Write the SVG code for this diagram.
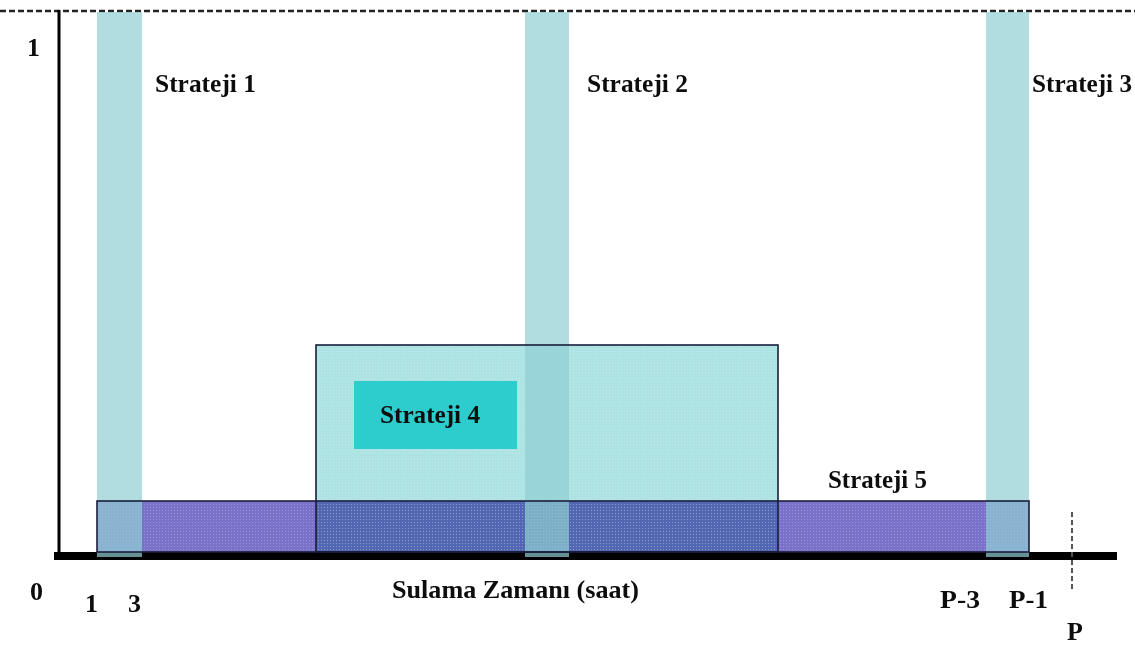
<svg xmlns="http://www.w3.org/2000/svg" width="1135" height="646" viewBox="0 0 1135 646">
  <style>
    .lbl { font-family: "Liberation Serif", "Times New Roman", serif; font-weight: bold; font-size: 26px; fill: #0d0d0d; }
    .bar { fill: #90ced3; fill-opacity: 0.7; }
    .edge { fill: none; stroke: #1a1d3a; stroke-width: 1.6; }
  </style>
  <defs>
    <pattern id="dots" width="3" height="3" patternUnits="userSpaceOnUse">
      <rect x="0" y="0" width="1" height="1" fill="#ffffff" fill-opacity="0.22"/>
    </pattern>
  </defs>
  <rect width="1135" height="646" fill="#ffffff"/>

  <g id="axes">
    <line x1="0" y1="11" x2="1135" y2="11" stroke="#222" stroke-width="2.5" stroke-dasharray="6 3"/>
    <line x1="59" y1="10" x2="59" y2="556" stroke="#000" stroke-width="3"/>
    <line x1="54" y1="556" x2="1117" y2="556" stroke="#000" stroke-width="8"/>
    <line x1="1072" y1="512" x2="1072" y2="592" stroke="#555" stroke-width="2" stroke-dasharray="5 3"/>
  </g>

  <g id="strateji5">
    <rect x="97" y="501" width="932" height="51" fill="#7a72c8"/>
    <rect x="97" y="501" width="932" height="51" fill="url(#dots)"/>
  </g>

  <g id="strateji4">
    <rect x="316" y="345" width="462" height="207" fill="#aee3e3" style="mix-blend-mode:multiply"/>
    <rect x="316" y="345" width="462" height="207" fill="url(#dots)"/>
  </g>

  <g id="strateji1">
    <rect class="bar" x="97" y="12" width="45" height="545"/>
  </g>
  <g id="strateji2">
    <rect class="bar" x="525" y="12" width="44" height="545"/>
  </g>
  <g id="strateji3">
    <rect class="bar" x="986" y="12" width="43" height="545"/>
  </g>

  <g id="outlines">
    <rect class="edge" x="97" y="501" width="932" height="51"/>
    <rect class="edge" x="316" y="345" width="462" height="207"/>
  </g>

  <g id="strateji4-label">
    <rect x="354" y="381" width="163" height="68" fill="#2ecdcd"/>
    <text class="lbl" x="380" y="423" textLength="100" lengthAdjust="spacingAndGlyphs">Strateji 4</text>
  </g>

  <g id="labels">
    <text class="lbl" x="155" y="92" textLength="101" lengthAdjust="spacingAndGlyphs">Strateji 1</text>
    <text class="lbl" x="587" y="92" textLength="101" lengthAdjust="spacingAndGlyphs">Strateji 2</text>
    <text class="lbl" x="1032" y="92" textLength="100" lengthAdjust="spacingAndGlyphs">Strateji 3</text>
    <text class="lbl" x="828" y="488" textLength="99" lengthAdjust="spacingAndGlyphs">Strateji 5</text>
    <text class="lbl" x="27" y="56">1</text>
    <text class="lbl" x="30" y="600">0</text>
    <text class="lbl" x="85" y="612">1</text>
    <text class="lbl" x="128" y="612">3</text>
    <text class="lbl" x="392" y="598" font-size="24" textLength="247" lengthAdjust="spacingAndGlyphs">Sulama Zamanı (saat)</text>
    <text class="lbl" x="940" y="608" textLength="40" lengthAdjust="spacingAndGlyphs">P-3</text>
    <text class="lbl" x="1009" y="608" textLength="39" lengthAdjust="spacingAndGlyphs">P-1</text>
    <text class="lbl" x="1067" y="640">P</text>
  </g>
</svg>
